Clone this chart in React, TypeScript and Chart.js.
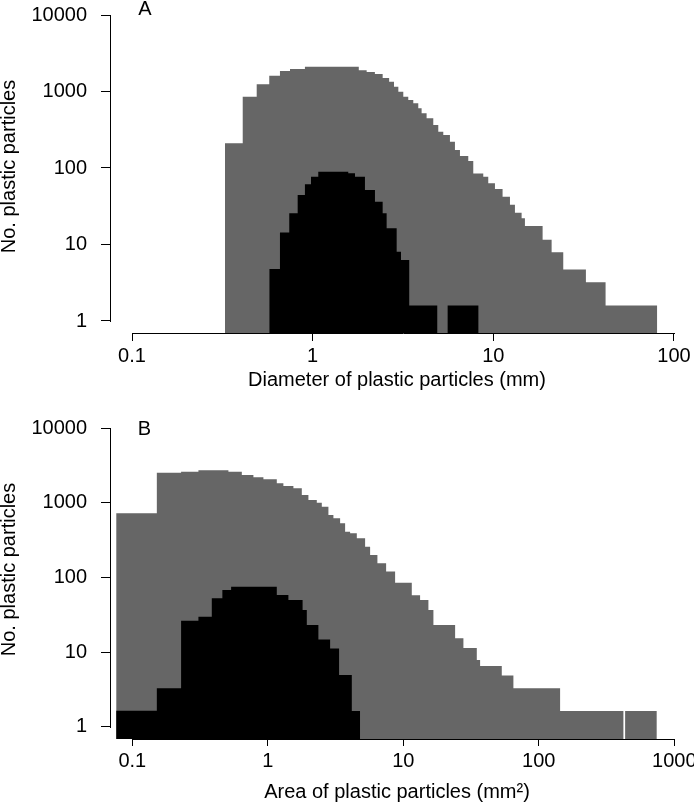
import React, { useEffect, useRef } from 'react';
import { Chart, registerables } from 'chart.js';

Chart.register(...registerables);

const FONT = '"Liberation Sans", Arial, Helvetica, sans-serif';
const GRAY = '#666666';
const BLACK = '#000000';

// ---------- Panel A: diameter (mm) ----------
// bin left edges (last value = right edge of last bin) and counts
const diameterAllEdges = [0.327, 0.41, 0.49, 0.575, 0.659, 0.749, 0.906, 1.8, 1.99, 2.21, 2.44, 2.65, 2.82, 2.98, 3.174, 3.382, 3.605, 3.842, 4.009, 4.272, 4.652, 4.958, 5.284, 5.752, 6.131, 6.535, 7.266, 7.744, 8.796, 9.374, 10.21, 11.25, 12.36, 13.17, 14.34, 14.96, 18.74, 21.02, 24.38, 32.54, 41.81, 80.77];
const diameterAllCounts = [210, 856, 1241, 1611, 1854, 1968, 2112, 1900, 1800, 1690, 1500, 1345, 1157, 995, 856, 774, 700, 602, 518, 446, 365, 298, 270, 221, 172, 143, 123, 85, 77, 63, 53, 42, 33, 26, 22, 17.5, 11.5, 7.9, 4.7, 3.2, 1.6];
const diameterSubEdges = [0.575, 0.659, 0.742, 0.826, 0.906, 0.979, 1.074, 1.574, 1.715, 1.947, 2.212, 2.44, 2.567, 2.917, 3.082, 3.424, 4.893, 5.586, 8.29];
const diameterSubCounts = [4.78, 14.3, 25.6, 44.4, 61.2, 76.9, 89.5, 85.3, 76.9, 51.6, 36.3, 25.6, 16.3, 8.05, 6.27, 1.6, 0, 1.6];
const diameterTicks = [0.1, 1, 10, 100];
const diameterTickLabels = ['0.1', '1', '10', '100'];

// ---------- Panel B: area (mm²) ----------
const areaAllEdges = [0.076, 0.1517, 0.2291, 0.3075, 0.512, 0.643, 0.783, 0.928, 1.165, 1.303, 1.545, 1.782, 1.994, 2.299, 2.503, 2.801, 3.049, 3.417, 3.72, 4.05, 4.538, 5.225, 5.689, 6.44, 7.467, 8.7, 11.55, 13.3, 15.32, 16.68, 24.12, 27.77, 34.86, 36.88, 53.3, 64.94, 143.6, 421, 433.5, 743];
const areaAllCounts = [725, 2540, 2620, 2735, 2620, 2366, 2204, 2072, 1831, 1685, 1569, 1276, 1094, 1006, 889, 688, 622, 533, 411, 391, 335, 259, 200, 155, 120, 85, 58, 50, 36.7, 23.1, 15.3, 11.35, 7.84, 6.5, 4.86, 3.27, 1.62, 0, 1.62];
const areaSubEdges = [0.076, 0.1517, 0.2291, 0.3075, 0.386, 0.462, 0.536, 1.165, 1.419, 1.806, 1.94, 2.362, 2.883, 3.358, 4.168, 4.799];
const areaSubCounts = [1.64, 3.27, 26.4, 29.8, 52.6, 68, 75.3, 58.3, 49.9, 36.7, 23.1, 14.8, 11.2, 4.93, 1.62];
const areaTicks = [0.1, 1, 10, 100, 1000];
const areaTickLabels = ['0.1', '1', '10', '100', '1000'];

// ---------- shared y axis ----------
const countTicks = [1, 10, 100, 1000, 10000];
const countTickLabels = ['1', '10', '100', '1000', '10000'];
const yTitle = 'No. plastic particles';

function stepPoints(edges: number[], counts: number[], floor: number) {
  return edges.map((e, i) => {
    const c = counts[Math.min(i, counts.length - 1)];
    return { x: e, y: c > 0 ? c : floor };
  });
}

type PanelCfg = {
  height: number;
  label: string;
  labelX: number;
  labelY: number;
  xTitle: string;
  xTicks: number[];
  xTickLabels: string[];
  xMin: number;
  xMax: number;
  yMin: number;
  yMax: number;
  xAxisHeight: number;
  xTickLen: number;
  xTickPad: number;
  xTitlePad: number;
  allEdges: number[];
  allCounts: number[];
  subEdges: number[];
  subCounts: number[];
};

const panelA: PanelCfg = {
  height: 400,
  label: 'A',
  labelX: 145,
  labelY: 9,
  xTitle: 'Diameter of plastic particles (mm)',
  xTicks: diameterTicks,
  xTickLabels: diameterTickLabels,
  xMin: 0.07554,
  xMax: 113.6,
  yMin: 0.6967,
  yMax: 15709,
  xAxisHeight: 67,
  xTickLen: 8,
  xTickPad: 3,
  xTitlePad: 8,
  allEdges: diameterAllEdges,
  allCounts: diameterAllCounts,
  subEdges: diameterSubEdges,
  subCounts: diameterSubCounts,
};

const panelB: PanelCfg = {
  height: 404,
  label: 'B',
  labelX: 144.5,
  labelY: 29,
  xTitle: 'Area of plastic particles (mm\u00B2)',
  xTicks: areaTicks,
  xTickLabels: areaTickLabels,
  xMin: 0.06845,
  xMax: 1179,
  yMin: 0.684,
  yMax: 23955,
  xAxisHeight: 65,
  xTickLen: 7,
  xTickPad: 3,
  xTitlePad: 0,
  allEdges: areaAllEdges,
  allCounts: areaAllCounts,
  subEdges: areaSubEdges,
  subCounts: areaSubCounts,
};

function Panel({ cfg }: { cfg: PanelCfg }) {
  const ref = useRef<HTMLCanvasElement | null>(null);
  useEffect(() => {
    if (!ref.current) return;
    const decor = {
      id: 'decor' + cfg.label,
      afterDraw(chart: any) {
        const { ctx, chartArea } = chart;
        const x = chart.scales.x;
        const y = chart.scales.y;
        ctx.save();
        ctx.strokeStyle = '#000';
        ctx.lineWidth = 1;
        ctx.beginPath();
        const xb = Math.round(chartArea.bottom) + 0.5;
        ctx.moveTo(Math.round(x.getPixelForValue(cfg.xTicks[0])), xb);
        ctx.lineTo(Math.round(x.getPixelForValue(cfg.xTicks[cfg.xTicks.length - 1])) + 1, xb);
        const yl = Math.round(chartArea.left) + 0.5;
        ctx.moveTo(yl, Math.round(y.getPixelForValue(countTicks[countTicks.length - 1])));
        ctx.lineTo(yl, Math.round(y.getPixelForValue(countTicks[0])) + 1);
        ctx.stroke();
        ctx.fillStyle = '#000';
        ctx.font = '20px ' + FONT;
        ctx.textAlign = 'center';
        ctx.textBaseline = 'middle';
        ctx.fillText(cfg.label, cfg.labelX, cfg.labelY);
        ctx.restore();
      },
    };
    const chart = new Chart(ref.current, {
      type: 'line',
      data: {
        datasets: [
          {
            data: stepPoints(cfg.subEdges, cfg.subCounts, cfg.yMin),
            stepped: true,
            fill: 'start',
            backgroundColor: BLACK,
            borderColor: 'rgba(0,0,0,0)',
            borderWidth: 0,
            pointRadius: 0,
            pointHoverRadius: 0,
          },
          {
            data: stepPoints(cfg.allEdges, cfg.allCounts, cfg.yMin),
            stepped: true,
            fill: 'start',
            backgroundColor: GRAY,
            borderColor: 'rgba(0,0,0,0)',
            borderWidth: 0,
            pointRadius: 0,
            pointHoverRadius: 0,
          },
        ],
      },
      options: {
        animation: false,
        responsive: false,
        devicePixelRatio: 1,
        events: [],
        layout: { padding: { left: 0, top: 0, right: 10, bottom: 0 } },
        plugins: { legend: { display: false }, tooltip: { enabled: false } },
        scales: {
          x: {
            type: 'logarithmic',
            min: cfg.xMin,
            max: cfg.xMax,
            afterBuildTicks: (s: any) => {
              s.ticks = cfg.xTicks.map((v) => ({ value: v }));
            },
            afterFit: (s: any) => {
              s.height = cfg.xAxisHeight;
              s.paddingLeft = 0;
              s.paddingRight = 0;
              s.paddingTop = 0;
              s.paddingBottom = 0;
            },
            border: { display: false },
            grid: {
              drawOnChartArea: false,
              drawTicks: true,
              tickLength: cfg.xTickLen,
              color: '#000',
              lineWidth: 1,
            },
            ticks: {
              autoSkip: false,
              maxRotation: 0,
              minRotation: 0,
              padding: cfg.xTickPad,
              color: '#000',
              font: { family: FONT, size: 20 },
              callback: (v: any) => {
                const i = cfg.xTicks.indexOf(Number(v));
                return i >= 0 ? cfg.xTickLabels[i] : '';
              },
            },
            title: {
              display: true,
              text: cfg.xTitle,
              color: '#000',
              font: { family: FONT, size: 20, lineHeight: 1.2 },
              padding: { top: 0, bottom: cfg.xTitlePad },
            },
          },
          y: {
            type: 'logarithmic',
            min: cfg.yMin,
            max: cfg.yMax,
            afterBuildTicks: (s: any) => {
              s.ticks = countTicks.map((v) => ({ value: v }));
            },
            afterFit: (s: any) => {
              s.width = 110;
              s.paddingLeft = 0;
              s.paddingRight = 0;
              s.paddingTop = 0;
              s.paddingBottom = 0;
            },
            border: { display: false },
            grid: {
              drawOnChartArea: false,
              drawTicks: true,
              tickLength: 9,
              color: '#000',
              lineWidth: 1,
            },
            ticks: {
              autoSkip: false,
              padding: 14,
              color: '#000',
              font: { family: FONT, size: 20 },
              callback: (v: any) => {
                const i = countTicks.indexOf(Number(v));
                return i >= 0 ? countTickLabels[i] : '';
              },
            },
            title: {
              display: true,
              text: yTitle,
              color: '#000',
              font: { family: FONT, size: 20, lineHeight: 1 },
              padding: { top: -1, bottom: 0 },
            },
          },
        },
      },
      plugins: [decor],
    } as any);
    return () => chart.destroy();
  }, [cfg]);
  return <canvas ref={ref} width={694} height={cfg.height} style={{ display: 'block' }} />;
}

export default function App() {
  return (
    <div style={{ position: 'absolute', left: 0, top: 0, width: 694, height: 804, background: '#fff' }}>
      <Panel cfg={panelA} />
      <Panel cfg={panelB} />
    </div>
  );
}
